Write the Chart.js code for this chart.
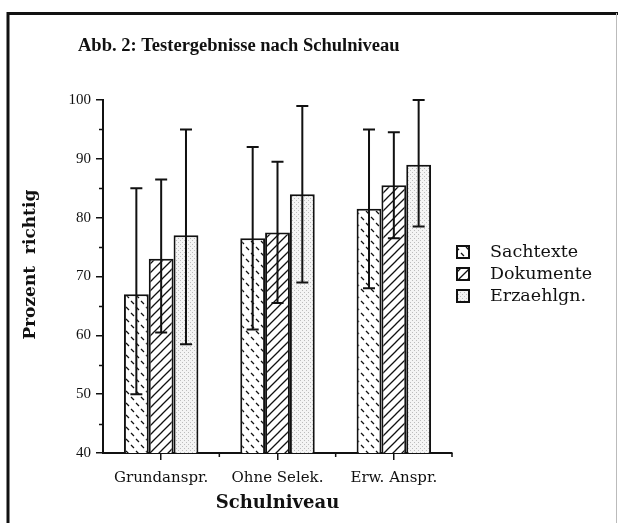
<!DOCTYPE html>
<html>
<head>
<meta charset="utf-8">
<script src="https://cdn.jsdelivr.net/npm/chart.js@4/dist/chart.umd.min.js"></script>
<style>
  body { margin: 0; background: #fff; }
  #wrap { position: absolute; left: 0; top: 0; width: 618px; height: 523px; }
</style>
</head>
<body>
<div id="wrap"><canvas id="chart" width="618" height="523"></canvas></div>
<script>
var categories = ['Grundanspr.', 'Ohne Selek.', 'Erw. Anspr.'];
var seriesNames = ['Sachtexte', 'Dokumente', 'Erzaehlgn.'];

var sachtexte = [67, 76.5, 81.5];
var dokumente = [73, 77.5, 85.5];
var erzaehlgn = [77, 84, 89];

// Fehlerbalken (untere / obere Grenze)
var sachtexteLow = [50, 61, 68];
var sachtexteHigh = [85, 92, 95];
var dokumenteLow = [60.5, 65.5, 76.5];
var dokumenteHigh = [86.5, 89.5, 94.5];
var erzaehlgnLow = [58.5, 69, 78.5];
var erzaehlgnHigh = [95, 99, 100];

var yTicks = [40, 50, 60, 70, 80, 90, 100];

var serif = "'Liberation Serif', serif";
var wide = "'DejaVu Serif', serif";

function makePattern(w, h, draw) {
    var c = document.createElement('canvas');
    c.width = w;
    c.height = h;
    var g = c.getContext('2d');
    g.fillStyle = '#fff';
    g.fillRect(0, 0, w, h);
    draw(g);
    return g.createPattern(c, 'repeat');
}

var dashPattern = makePattern(10, 12, function (g) {
    g.strokeStyle = '#111';
    g.lineWidth = 1.3;
    g.beginPath();
    g.moveTo(1, 1); g.lineTo(4, 4);
    g.moveTo(6, 7); g.lineTo(9, 10);
    g.stroke();
});

var hatchPattern = makePattern(9, 9, function (g) {
    g.strokeStyle = '#111';
    g.lineWidth = 1.3;
    g.beginPath();
    g.moveTo(-1, 10); g.lineTo(10, -1);
    g.moveTo(-5, 5); g.lineTo(5, -5);
    g.moveTo(4, 14); g.lineTo(14, 4);
    g.stroke();
});

var dotPattern = makePattern(4, 4, function (g) {
    g.fillStyle = '#f4f4f4';
    g.fillRect(0, 0, 4, 4);
    g.fillStyle = '#bdbdbd';
    g.fillRect(0, 0, 1, 1);
    g.fillRect(2, 2, 1, 1);
});

var patterns = [dashPattern, hatchPattern, dotPattern];
var lows = [sachtexteLow, dokumenteLow, erzaehlgnLow];
var highs = [sachtexteHigh, dokumenteHigh, erzaehlgnHigh];

var extras = {
    id: 'extras',
    beforeDraw: function (chart) {
        var ctx = chart.ctx;
        ctx.save();
        ctx.fillStyle = '#fff';
        ctx.fillRect(0, 0, chart.width, chart.height);
        ctx.restore();
    },
    afterDatasetsDraw: function (chart) {
        var ctx = chart.ctx;
        var y = chart.scales.y;
        ctx.save();
        ctx.strokeStyle = '#111';
        ctx.lineWidth = 2;
        chart.data.datasets.forEach(function (ds, i) {
            var meta = chart.getDatasetMeta(i);
            meta.data.forEach(function (bar, j) {
                var yh = y.getPixelForValue(highs[i][j]);
                var yl = y.getPixelForValue(lows[i][j]);
                ctx.beginPath();
                ctx.moveTo(bar.x, yh); ctx.lineTo(bar.x, yl);
                ctx.moveTo(bar.x - 6, yh); ctx.lineTo(bar.x + 6, yh);
                ctx.moveTo(bar.x - 6, yl); ctx.lineTo(bar.x + 6, yl);
                ctx.stroke();
            });
        });
        ctx.restore();
    },
    afterDraw: function (chart) {
        var ctx = chart.ctx;
        var area = chart.chartArea;
        var x = chart.scales.x;
        var y = chart.scales.y;
        ctx.save();
        // kleine Zwischenstriche
        ctx.strokeStyle = '#111';
        ctx.lineWidth = 1.5;
        ctx.beginPath();
        for (var v = 45; v < 100; v += 10) {
            var py = Math.round(y.getPixelForValue(v)) + 0.5;
            ctx.moveTo(area.left - 4, py); ctx.lineTo(area.left, py);
        }
        for (var k = 0; k < categories.length; k++) {
            var px = k < categories.length - 1
                ? (x.getPixelForValue(k) + x.getPixelForValue(k + 1)) / 2
                : area.right;
            ctx.moveTo(px, area.bottom); ctx.lineTo(px, area.bottom + 4);
        }
        ctx.stroke();

        // Titel
        ctx.fillStyle = '#111';
        ctx.font = 'bold 18.5px ' + serif;
        ctx.textBaseline = 'alphabetic';
        ctx.textAlign = 'left';
        ctx.fillText('Abb. 2: Testergebnisse nach Schulniveau', 78, 51);

        // Legende
        ctx.font = '17.5px ' + wide;
        ctx.textBaseline = 'middle';
        chart.data.datasets.forEach(function (ds, i) {
            var cy = 252 + i * 22;
            ctx.fillStyle = ds.backgroundColor;
            ctx.fillRect(457, cy - 6, 12, 12);
            ctx.strokeStyle = '#111';
            ctx.lineWidth = 2;
            ctx.strokeRect(457, cy - 6, 12, 12);
            ctx.fillStyle = '#111';
            ctx.fillText(ds.label, 490, cy);
        });

        // Rahmen
        ctx.strokeStyle = '#111';
        ctx.lineWidth = 3;
        ctx.beginPath();
        ctx.moveTo(8, 523); ctx.lineTo(8, 13.5); ctx.lineTo(618, 13.5);
        ctx.stroke();
        ctx.strokeStyle = '#bbb';
        ctx.lineWidth = 1;
        ctx.beginPath();
        ctx.moveTo(616.5, 13); ctx.lineTo(616.5, 523);
        ctx.stroke();
        ctx.restore();
    }
};

var ctx = document.getElementById('chart').getContext('2d');
var chart = new Chart(ctx, {
    type: 'bar',
    data: {
        labels: categories,
        datasets: [
            { label: seriesNames[0], data: sachtexte, backgroundColor: patterns[0] },
            { label: seriesNames[1], data: dokumente, backgroundColor: patterns[1] },
            { label: seriesNames[2], data: erzaehlgn, backgroundColor: patterns[2] }
        ]
    },
    options: {
        responsive: false,
        animation: false,
        devicePixelRatio: 1,
        datasets: {
            bar: {
                borderColor: '#111',
                borderWidth: 2,
                borderSkipped: false,
                categoryPercentage: 0.64,
                barPercentage: 1
            }
        },
        layout: {
            padding: { top: 100, left: 8, right: 166, bottom: 0 }
        },
        plugins: {
            legend: { display: false },
            title: { display: false },
            tooltip: { enabled: false }
        },
        scales: {
            x: {
                grid: { display: true, drawOnChartArea: false, offset: false, color: '#111', lineWidth: 1.5, tickLength: 7 },
                border: { display: true, color: '#111', width: 2 },
                ticks: { color: '#111', padding: 9, font: { family: wide, size: 15 } },
                title: {
                    display: true, text: 'Schulniveau', color: '#111',
                    font: { family: wide, size: 18, weight: 'bold' },
                    padding: { top: 0, bottom: 9 }
                },
                afterFit: function (scale) { scale.height = 70; }
            },
            y: {
                min: 40,
                max: 100,
                afterBuildTicks: function (scale) {
                    scale.ticks = yTicks.map(function (v) { return { value: v }; });
                },
                grid: { display: true, drawOnChartArea: false, color: '#111', lineWidth: 1.5, tickLength: 7 },
                border: { display: true, color: '#111', width: 2 },
                ticks: { color: '#111', padding: 5, font: { family: serif, size: 15 } },
                title: {
                    display: true, text: '    Prozent  richtig', color: '#111',
                    font: { family: wide, size: 17, weight: 'bold' },
                    padding: { top: 12, bottom: 0 }
                },
                afterFit: function (scale) { scale.width = 95; }
            }
        }
    },
    plugins: [extras]
});
</script>
</body>
</html>
